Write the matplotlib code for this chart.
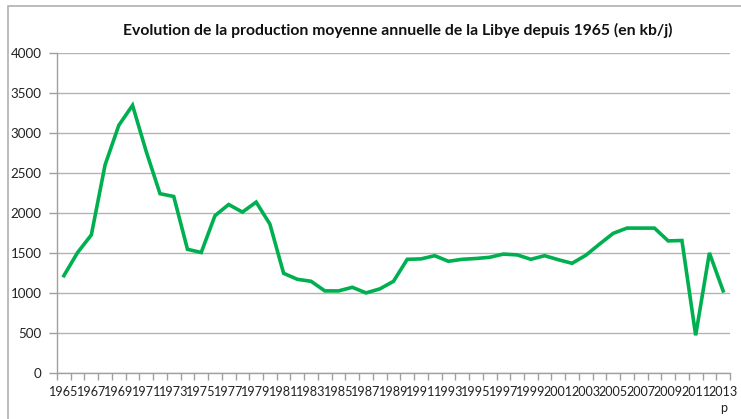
import numpy as np
import matplotlib
matplotlib.use("Agg")
import matplotlib.pyplot as plt
from matplotlib.patches import Rectangle

plt.rcParams['font.family'] = ['Lato', 'DejaVu Sans']

# annees 1965 -> 2013 (2013 = provisoire)
years = list(range(1965, 2014))
production = [1220, 1510, 1730, 2605, 3100, 3350, 2770, 2245, 2210, 1550,
              1510, 1970, 2110, 2015, 2140, 1865, 1250, 1175, 1150, 1030,
              1030, 1075, 1005, 1055, 1150, 1425, 1430, 1470, 1400, 1425,
              1435, 1450, 1490, 1480, 1425, 1470, 1420, 1375, 1475, 1615,
              1750, 1815, 1815, 1815, 1655, 1660, 475, 1505, 1030]
tick_labels = [str(y) if (y - 1965) % 2 == 0 else "" for y in years]
tick_labels[-1] = "2013\np"

title = "Evolution de la production moyenne annuelle de la Libye depuis 1965 (en kb/j)"

W, H = 741, 419
fig = plt.figure(figsize=(W / 100, H / 100), dpi=100)
ax = fig.add_axes([57 / W, 1 - 373.3 / H, (730 - 57) / W, (373.3 - 53.3) / H])

x = np.arange(len(years))
ax.plot(x, production, color="#00b050", lw=2.6, solid_joinstyle="miter", clip_on=False)

ax.set_xlim(-0.5, len(years) - 0.5)
ax.set_ylim(0, 4000)
ax.set_yticks(np.arange(0, 4001, 500))
ax.grid(axis="y", color="#b3b3b3", lw=1)
ax.set_axisbelow(True)

# labels on categories, tick marks on boundaries
ax.set_xticks(x)
ax.set_xticklabels(tick_labels, fontsize=9.1, color="#222222", linespacing=1.45,
                   va="top")
ax.set_xticks(np.arange(-0.5, len(years)), minor=True)
ax.tick_params(axis="x", which="major", length=0, pad=9)
ax.tick_params(axis="x", which="minor", length=5, color="#a0a0a0", width=1)
ax.tick_params(axis="y", length=6, color="#a0a0a0", width=1, labelsize=9.6,
               labelcolor="#222222", pad=5)
for lab in ax.get_xticklabels():
    lab.set_multialignment("center")

for s in ["top", "right"]:
    ax.spines[s].set_visible(False)
for s in ["left", "bottom"]:
    ax.spines[s].set_color("#a0a0a0")
    ax.spines[s].set_linewidth(1)

fig.text(398 / W, 1 - 30 / H, title, ha="center", va="center",
         fontsize=11.3, fontweight="bold", color="#111111")

# cadre du graphique
fig.patches.append(Rectangle((8 / W, -0.1), 1.1, 1 - 6 / H + 0.1,
                             transform=fig.transFigure, fill=False,
                             edgecolor="#b0b0b0", lw=1.2))

fig.savefig("out.png", dpi=100)
